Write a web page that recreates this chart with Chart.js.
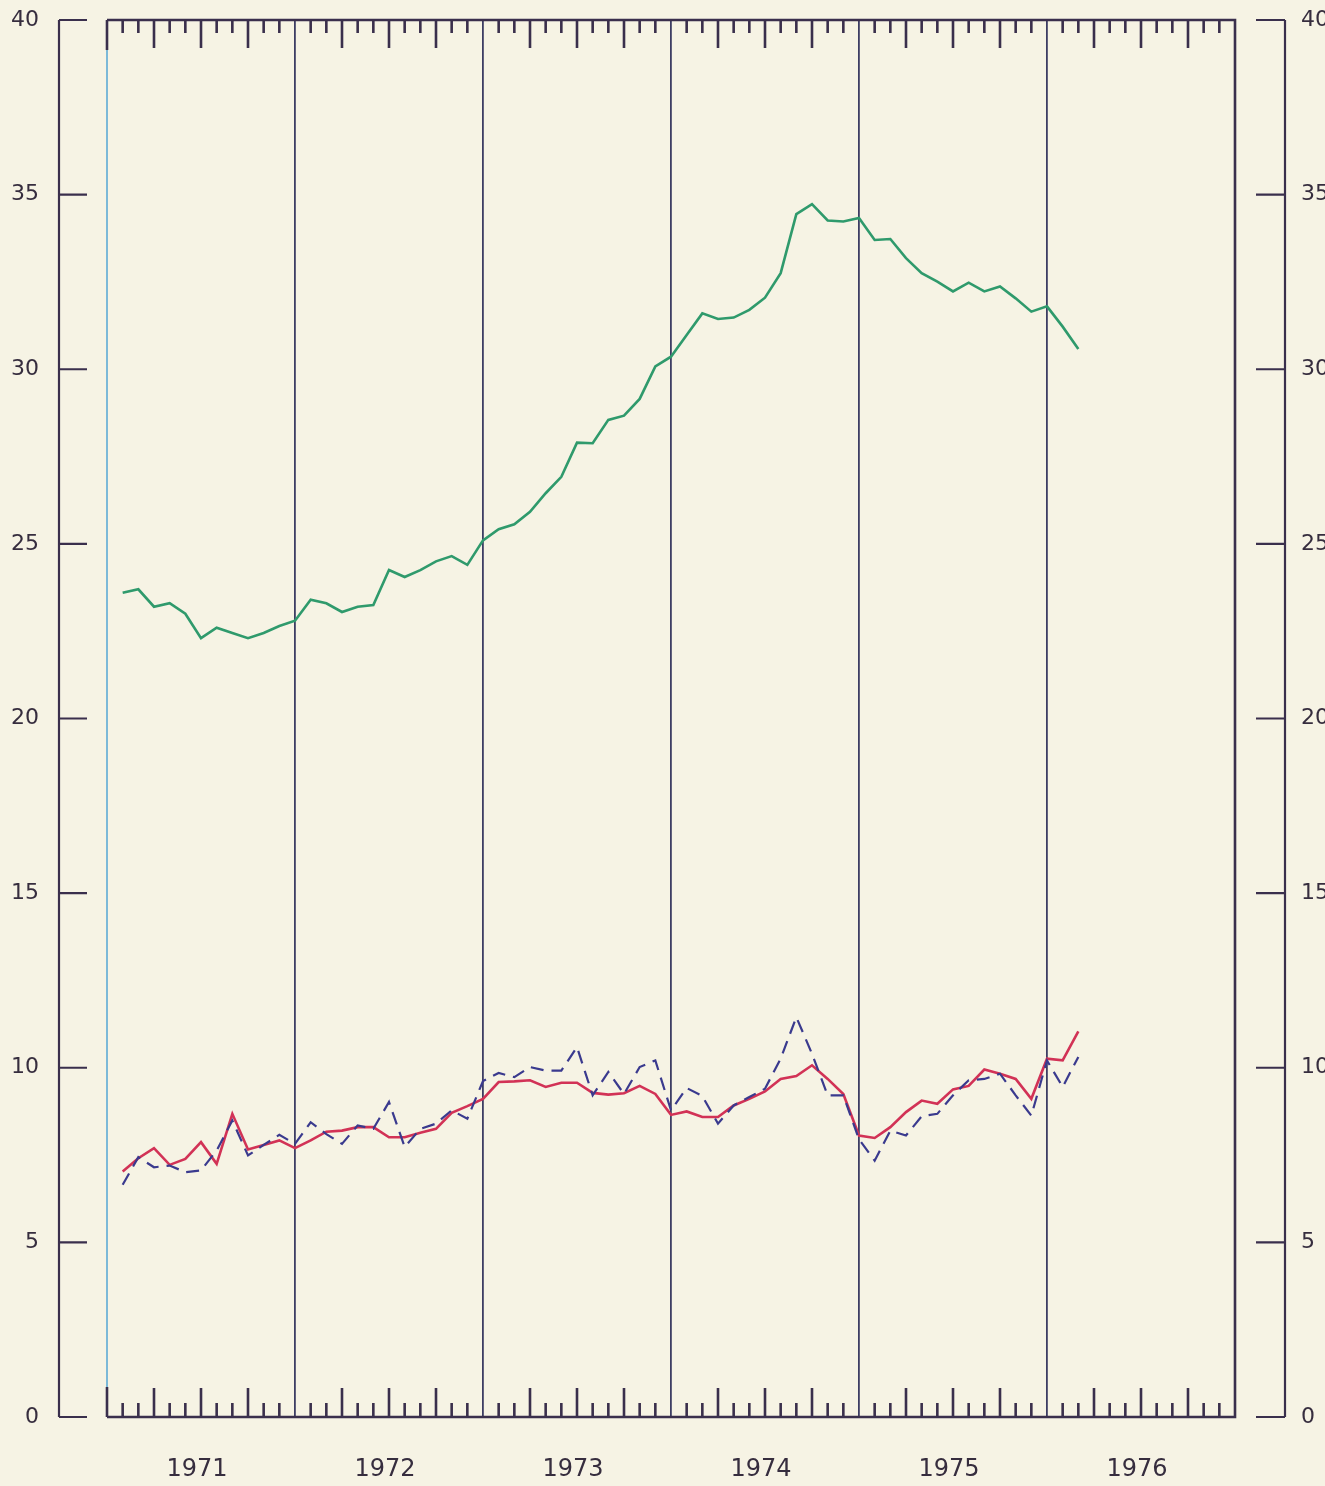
<!DOCTYPE html>
<html>
<head>
<meta charset="utf-8">
<script src="https://cdn.jsdelivr.net/npm/chart.js@4/dist/chart.umd.min.js"></script>
<style>
  html, body { margin: 0; padding: 0; background: #f6f3e4; }
  canvas { display: block; }
</style>
</head>
<body>
<canvas id="c" width="1325" height="1486"></canvas>
<script>
// ---- data ----
const months = [
  '1971-01','1971-02','1971-03','1971-04','1971-05','1971-06','1971-07','1971-08','1971-09','1971-10','1971-11','1971-12',
  '1972-01','1972-02','1972-03','1972-04','1972-05','1972-06','1972-07','1972-08','1972-09','1972-10','1972-11','1972-12',
  '1973-01','1973-02','1973-03','1973-04','1973-05','1973-06','1973-07','1973-08','1973-09','1973-10','1973-11','1973-12',
  '1974-01','1974-02','1974-03','1974-04','1974-05','1974-06','1974-07','1974-08','1974-09','1974-10','1974-11','1974-12',
  '1975-01','1975-02','1975-03','1975-04','1975-05','1975-06','1975-07','1975-08','1975-09','1975-10','1975-11','1975-12',
  '1976-01','1976-02'
];
const greenSeries = [
  23.6, 23.7, 23.2, 23.3, 23.0, 22.3, 22.6, 22.45, 22.3, 22.45, 22.65, 22.8,
  23.4, 23.3, 23.05, 23.2, 23.25, 24.25, 24.05, 24.25, 24.5, 24.65, 24.4, 25.1,
  25.42, 25.56, 25.92, 26.45, 26.92, 27.9, 27.88, 28.55, 28.67, 29.15, 30.08, 30.36,
  30.98, 31.6, 31.44, 31.48, 31.7, 32.05, 32.75, 34.44, 34.73, 34.26, 34.23, 34.33,
  33.7, 33.73, 33.18, 32.75, 32.51, 32.23, 32.48, 32.23, 32.37, 32.03, 31.65, 31.8,
  31.22, 30.58
];
const redSeries = [
  7.03, 7.41, 7.70, 7.22, 7.39, 7.87, 7.25, 8.68, 7.66, 7.79, 7.92, 7.70,
  7.92, 8.17, 8.20, 8.30, 8.30, 8.01, 8.01, 8.14, 8.25, 8.71, 8.90, 9.11,
  9.59, 9.61, 9.64, 9.45, 9.57, 9.57, 9.28, 9.23, 9.27, 9.48, 9.25, 8.65,
  8.75, 8.59, 8.59, 8.92, 9.11, 9.32, 9.68, 9.76, 10.07, 9.68, 9.25, 8.06,
  7.99, 8.30, 8.73, 9.06, 8.97, 9.38, 9.48, 9.95, 9.83, 9.68, 9.11, 10.26,
  10.21, 11.04
];
const blueSeries = [
  6.65, 7.44, 7.15, 7.20, 7.01, 7.06, 7.63, 8.49, 7.49, 7.79, 8.08, 7.82,
  8.44, 8.10, 7.82, 8.35, 8.25, 9.02, 7.73, 8.25, 8.40, 8.78, 8.54, 9.62,
  9.85, 9.73, 10.02, 9.92, 9.92, 10.59, 9.21, 9.88, 9.25, 10.02, 10.21, 8.78,
  9.42, 9.19, 8.40, 8.92, 9.16, 9.40, 10.26, 11.45, 10.40, 9.21, 9.21, 7.95,
  7.34, 8.20, 8.06, 8.61, 8.68, 9.21, 9.64, 9.68, 9.83, 9.21, 8.63, 10.21,
  9.45, 10.31
];
const yearLabels = ['1971','1972','1973','1974','1975','1976'];
const yTickValues = [0, 5, 10, 15, 20, 25, 30, 35, 40];

// ---- helpers ----
const firstYear = Number(yearLabels[0]);
const monthPos = m => (Number(m.slice(0,4)) - firstYear) * 12 + Number(m.slice(5,7));
const xMax = yearLabels.length * 12;
const toPoints = arr => months.map((m, i) => ({ x: monthPos(m), y: arr[i] }));

const BG = '#f6f3e4';
const INK = '#3a2f4c';
const TEXT = '#362d3e';
const YEARLINE = '#3d3d63';

const decor = {
  id: 'decor',
  beforeDraw(chart) {
    const c = chart.ctx;
    c.save();
    c.fillStyle = BG;
    c.fillRect(0, 0, chart.width, chart.height);
    c.restore();
  },
  beforeDatasetsDraw(chart) {
    const c = chart.ctx, a = chart.chartArea;
    const xs = chart.scales.x, ys = chart.scales.y;
    c.save();
    c.lineCap = 'butt';
    // frame
    c.strokeStyle = INK;
    c.lineWidth = 2.6;
    c.beginPath();
    c.moveTo(a.left, a.top); c.lineTo(a.right, a.top); c.lineTo(a.right, a.bottom); c.lineTo(a.left, a.bottom);
    c.stroke();
    c.strokeStyle = '#6fb3d6';
    c.lineWidth = 1.8;
    c.beginPath(); c.moveTo(a.left, a.top + 30); c.lineTo(a.left, a.bottom - 30); c.stroke();
    c.strokeStyle = INK;
    c.lineWidth = 2.6;
    c.beginPath(); c.moveTo(a.left, a.top); c.lineTo(a.left, a.top + 30); c.moveTo(a.left, a.bottom - 30); c.lineTo(a.left, a.bottom); c.stroke();
    // monthly ticks, top and bottom
    c.lineWidth = 2.6;
    for (let m = 1; m < xMax; m++) {
      if (m % 12 === 0) {
        continue;
      }
      const px = xs.getPixelForValue(m);
      const q = (m % 3 === 0);
      c.beginPath();
      c.moveTo(px, a.top); c.lineTo(px, a.top + (q ? 28 : 13));
      c.moveTo(px, a.bottom); c.lineTo(px, a.bottom - (q ? 29 : 14));
      c.stroke();
    }
    // separate left/right value axes
    const yTop = ys.getPixelForValue(yTickValues[yTickValues.length - 1]);
    const yBot = ys.getPixelForValue(yTickValues[0]);
    const lx = a.left - 48, rx = a.right + 50;
    c.lineWidth = 2.2;
    c.beginPath();
    c.moveTo(lx, yTop); c.lineTo(lx, yBot);
    c.moveTo(rx, yTop); c.lineTo(rx, yBot);
    for (const v of yTickValues) {
      const py = ys.getPixelForValue(v);
      c.moveTo(lx, py); c.lineTo(lx + 28, py);
      c.moveTo(rx, py); c.lineTo(rx - 29, py);
    }
    c.stroke();
    c.restore();
  }
};

const yTickBuild = s => { s.ticks = yTickValues.map(v => ({ value: v })); };

new Chart(document.getElementById('c'), {
  type: 'line',
  data: {
    datasets: [
      { label: 'green', data: toPoints(greenSeries), borderColor: '#2f9a6c', borderWidth: 2.6, pointRadius: 0, tension: 0, fill: false },
      { label: 'blue', data: toPoints(blueSeries), borderColor: '#3a3a8e', borderWidth: 2.2, borderDash: [13, 8], pointRadius: 0, tension: 0, fill: false },
      { label: 'red', data: toPoints(redSeries), borderColor: '#d23256', borderWidth: 2.6, pointRadius: 0, tension: 0, fill: false }
    ]
  },
  options: {
    responsive: false,
    animation: false,
    devicePixelRatio: 1,
    layout: { padding: { top: 20, left: 0, right: 0, bottom: 0 } },
    plugins: { legend: { display: false }, tooltip: { enabled: false } },
    scales: {
      x: {
        type: 'linear', min: 0, max: xMax,
        afterBuildTicks: s => {
          const t = [];
          for (let i = 0; i <= yearLabels.length * 2; i++) t.push({ value: i * 6 });
          s.ticks = t;
        },
        afterFit: s => { s.height = 69; s.paddingLeft = 0; s.paddingRight = 0; },
        ticks: {
          autoSkip: false, maxRotation: 0, minRotation: 0, padding: 38, labelOffset: -4,
          color: TEXT, font: { family: 'DejaVu Sans', size: 24 },
          callback: v => (v % 12 === 6 ? yearLabels[(v - 6) / 12] : '')
        },
        grid: {
          drawTicks: false, drawOnChartArea: true, lineWidth: 1.8,
          color: ctx => (ctx.tick && ctx.tick.value % 12 === 0 && ctx.tick.value > 0 && ctx.tick.value < xMax) ? YEARLINE : 'rgba(0,0,0,0)'
        },
        border: { display: false }
      },
      y: {
        position: 'left', min: 0, max: 40,
        afterBuildTicks: yTickBuild,
        afterFit: s => { s.width = 107; s.paddingTop = 0; s.paddingBottom = 0; },
        ticks: { padding: 68, color: TEXT, font: { family: 'DejaVu Sans', size: 22 } },
        grid: { display: false, drawTicks: false },
        border: { display: false }
      },
      y2: {
        position: 'right', min: 0, max: 40,
        afterBuildTicks: yTickBuild,
        afterFit: s => { s.width = 90; s.paddingTop = 0; s.paddingBottom = 0; },
        ticks: { padding: 66, color: TEXT, font: { family: 'DejaVu Sans', size: 22 } },
        grid: { display: false, drawTicks: false },
        border: { display: false }
      }
    }
  },
  plugins: [decor]
});
</script>
</body>
</html>
